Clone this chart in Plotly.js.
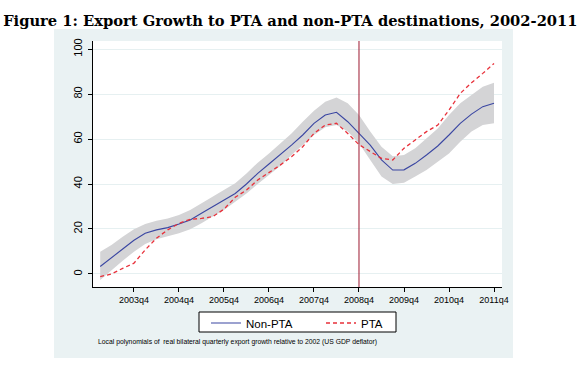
<!DOCTYPE html>
<html>
<head>
<meta charset="utf-8">
<script src="https://cdn.plot.ly/plotly-3.0.1.min.js"></script>
<style>html,body{margin:0;padding:0;background:#fff;}#chart{width:583px;height:378px;}</style>
</head>
<body>
<div id="chart"></div>
<script>
// Stata quarterly index: 2002q1 = 168
const quarters = [172,173,174,175,176,177,178,179,180,181,182,183,184,185,186,187,188,189,190,191,192,193,194,195,196,197,198,199,200,201,202,203,204,205,206,207];
const nonPTA = [3.3,7.0,11.1,15.0,18.1,19.6,20.6,22.2,24.0,27.0,29.9,33.0,35.8,40.0,44.7,48.9,52.9,57.3,61.8,67.0,70.7,71.9,67.7,62.5,57.3,50.7,46.2,46.3,49.2,52.9,56.9,61.8,67.0,71.1,74.4,75.9];
const ciUpper = [9.9,12.9,16.6,19.9,22.2,23.7,24.7,26.2,28.4,31.4,34.4,37.3,40.3,44.7,49.5,53.6,58.1,62.5,67.7,72.6,76.6,78.5,75.9,70.7,63.3,56.6,52.4,52.9,55.9,60.3,64.7,70.7,75.9,79.6,83.3,85.0];
const ciLower = [-2.7,1.8,5.9,9.9,13.3,15.4,16.6,18.1,19.9,22.5,25.5,28.4,32.1,35.8,40.0,44.0,48.0,52.9,57.3,61.8,65.2,66.2,63.3,58.1,50.7,43.3,40.0,40.6,43.3,46.2,49.9,53.6,58.8,63.3,66.2,67.0];
const PTA = [-1.2,0.0,2.5,4.8,10.7,15.9,19.6,22.5,24.3,24.7,25.5,28.8,34.1,37.3,41.8,45.0,48.4,52.1,56.6,62.5,66.2,67.0,62.5,57.5,54.4,51.4,50.7,55.9,59.6,63.3,66.2,72.9,80.3,85.0,89.2,93.6];
const xTickVals = [175,179,183,187,191,195,199,203,207];
const xTickText = ["2003q4","2004q4","2005q4","2006q4","2007q4","2008q4","2009q4","2010q4","2011q4"];
const yTickVals = [0,20,40,60,80,100];
const breakQuarter = 195;

const traces = [
  {x: quarters, y: ciUpper, type:'scatter', mode:'lines', line:{width:0, color:'#d4d4d6'}, showlegend:false, hoverinfo:'skip'},
  {x: quarters, y: ciLower, type:'scatter', mode:'lines', line:{width:0, color:'#d4d4d6'}, fill:'tonexty', fillcolor:'#d4d4d6', showlegend:false, hoverinfo:'skip'},
  {x: quarters, y: nonPTA, type:'scatter', mode:'lines', name:'Non-PTA', line:{color:'#3a46a2', width:1.1}},
  {x: quarters, y: PTA, type:'scatter', mode:'lines', name:'PTA', line:{color:'#e8303a', width:1.3, dash:'4px,3px'}}
];

const px = v => (v-93)/409;      // pixel x -> paper x
const py = v => (287-v)/246;     // pixel y -> paper y

const layout = {
  width:583, height:378,
  margin:{l:93, r:81, t:41, b:91, pad:0},
  paper_bgcolor:'#ffffff',
  plot_bgcolor:'#ffffff',
  font:{family:'Arial, Liberation Sans, sans-serif', color:'#000'},
  title:{text:'<b>Figure 1: Export Growth to PTA and non-PTA destinations, 2002-2011</b>', font:{family:'DejaVu Serif, serif', size:14.7, color:'#000'}, x:0.498, xanchor:'center', xref:'container', y:1-21/378, yanchor:'middle', yref:'container'},
  showlegend:true,
  legend:{orientation:'h', x:px(206), xanchor:'left', y:py(308.5), yanchor:'top', bgcolor:'rgba(0,0,0,0)', borderwidth:0, font:{size:11.5, family:'Arial, Liberation Sans, sans-serif'}, traceorder:'normal', entrywidth:70, entrywidthmode:'pixels'},
  xaxis:{range:[171.36,207.71], tickmode:'array', tickvals:xTickVals, ticktext:xTickText, ticks:'outside', ticklen:4, tickcolor:'#000', tickwidth:1, showline:true, linecolor:'#000', linewidth:1, showgrid:false, zeroline:false, tickfont:{size:9}, fixedrange:true},
  yaxis:{range:[-5.8,103.6], tickmode:'array', tickvals:yTickVals, ticks:'outside', ticklen:4, tickcolor:'#000', tickwidth:1, showline:true, linecolor:'#000', linewidth:1, showgrid:true, gridcolor:'#e6f0f1', gridwidth:1, zeroline:false, tickangle:-90, tickfont:{size:11}, ticklabelstandoff:2, fixedrange:true},
  shapes:[
    {type:'rect', xref:'paper', yref:'paper', x0:px(54), x1:px(513), y0:py(358), y1:py(29), fillcolor:'#eaf2f3', line:{width:0}, layer:'below'},
    {type:'rect', xref:'paper', yref:'paper', x0:0, x1:1, y0:0, y1:1, fillcolor:'#ffffff', line:{width:0}, layer:'below'},
    {type:'line', xref:'x', yref:'y domain', x0:breakQuarter, x1:breakQuarter, y0:0, y1:1, line:{color:'#9c1830', width:1}},
    {type:'rect', xref:'paper', yref:'paper', x0:px(199), x1:px(396), y0:py(332), y1:py(312), fillcolor:'#ffffff', line:{color:'#000', width:1}, layer:'above'}
  ],
  annotations:[
    {text:'Local polynomials of \u00a0real bilateral quarterly export growth relative to 2002 (US GDP deflator)', xref:'paper', yref:'paper', x:px(96), xanchor:'left', y:py(342), yanchor:'middle', showarrow:false, font:{size:6.8, family:'Arial, Liberation Sans, sans-serif', color:'#000'}}
  ]
};

Plotly.newPlot('chart', traces, layout, {displayModeBar:false, staticPlot:true});
</script>
</body>
</html>
